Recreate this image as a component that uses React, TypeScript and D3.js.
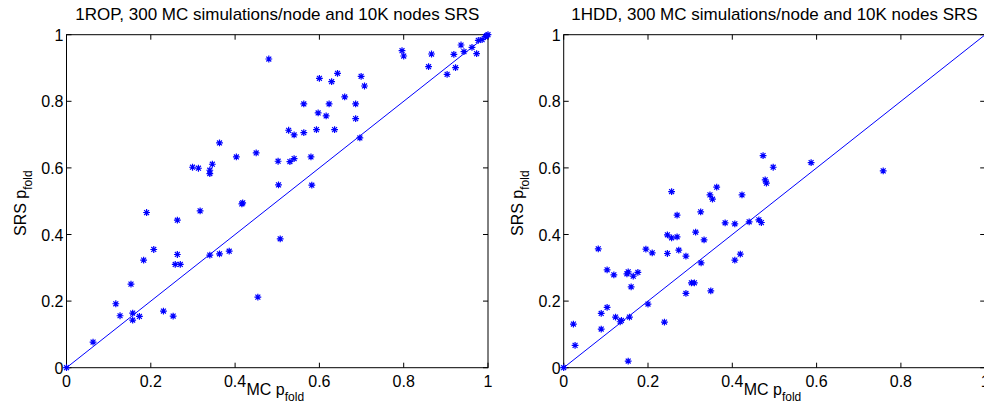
import React from "react";
import * as d3 from "d3";

const titles = [
  "1ROP, 300 MC simulations/node and 10K nodes SRS",
  "1HDD, 300 MC simulations/node and 10K nodes SRS",
];
const tickValues = [0, 0.2, 0.4, 0.6, 0.8, 1];
const tickLabels = ["0", "0.2", "0.4", "0.6", "0.8", "1"];

// Left panel: 1ROP (MC pfold, SRS pfold)
const ropMC = [
  0, 0.063, 0.117, 0.127, 0.153, 0.157, 0.157, 0.173, 0.183, 0.19, 0.207, 0.23, 0.253, 0.263, 0.263,
  0.258, 0.27, 0.317, 0.34, 0.363, 0.386, 0.416, 0.418, 0.454, 0.507, 0.48, 0.363, 0.299, 0.313, 0.346,
  0.34, 0.34, 0.403, 0.45, 0.502, 0.503, 0.796, 0.8, 0.866, 0.859, 0.919, 0.936, 0.943, 0.962, 0.973,
  0.923, 0.903, 0.977, 0.986, 0.994, 0.997, 1, 0.6, 0.629, 0.643, 0.699, 0.707, 0.66, 0.563, 0.623,
  0.686, 0.597, 0.616, 0.686, 0.527, 0.54, 0.563, 0.593, 0.636, 0.696, 0.53, 0.54, 0.58, 0.582,
];
const ropSRS = [
  0, 0.077, 0.192, 0.156, 0.251, 0.164, 0.143, 0.154, 0.323, 0.466, 0.355, 0.17, 0.155, 0.443, 0.34,
  0.31, 0.31, 0.471, 0.338, 0.342, 0.35, 0.492, 0.495, 0.212, 0.387, 0.927, 0.675, 0.602, 0.599, 0.611,
  0.593, 0.583, 0.633, 0.645, 0.62, 0.549, 0.952, 0.936, 0.942, 0.904, 0.941, 0.969, 0.949, 0.962, 0.943,
  0.901, 0.881, 0.983, 0.985, 0.994, 0.997, 1, 0.869, 0.859, 0.884, 0.875, 0.846, 0.813, 0.792, 0.792,
  0.792, 0.765, 0.756, 0.748, 0.713, 0.699, 0.706, 0.715, 0.715, 0.69, 0.619, 0.628, 0.633, 0.548,
];

// Right panel: 1HDD (MC pfold, SRS pfold)
const hddMC = [
  0, 0.023, 0.027, 0.082, 0.089, 0.089, 0.103, 0.103, 0.119, 0.123, 0.134, 0.137, 0.15, 0.153, 0.156,
  0.153, 0.16, 0.165, 0.176, 0.195, 0.2, 0.21, 0.239, 0.246, 0.246, 0.256, 0.256, 0.269, 0.269, 0.273,
  0.29, 0.29, 0.303, 0.31, 0.313, 0.325, 0.326, 0.333, 0.347, 0.353, 0.349, 0.363, 0.383, 0.406, 0.406,
  0.419, 0.423, 0.44, 0.463, 0.469, 0.473, 0.478, 0.481, 0.497, 0.587, 0.758,
];
const hddSRS = [
  0, 0.131, 0.067, 0.357, 0.163, 0.116, 0.294, 0.181, 0.279, 0.152, 0.138, 0.142, 0.282, 0.288, 0.152,
  0.02, 0.243, 0.275, 0.286, 0.356, 0.191, 0.345, 0.137, 0.399, 0.343, 0.529, 0.39, 0.458, 0.393, 0.353,
  0.335, 0.223, 0.255, 0.255, 0.407, 0.468, 0.315, 0.384, 0.519, 0.506, 0.231, 0.542, 0.435, 0.432, 0.323,
  0.341, 0.519, 0.438, 0.444, 0.436, 0.637, 0.564, 0.554, 0.602, 0.616, 0.591,
];

const W = 984;
const H = 407;
const BLUE = "#0000ff";
const FONT = "'Liberation Sans', Arial, Helvetica, sans-serif";

const panels = [
  { x0: 66.5, title: titles[0], mc: ropMC, srs: ropSRS },
  { x0: 563.7, title: titles[1], mc: hddMC, srs: hddSRS },
];

const PW = 421.5;
const yTop = 34.7;
const yBot = 367.7;

function starPath(r: number) {
  const d = r * 0.72;
  return `M${-r},0L${r},0M0,${-r}L0,${r}M${-d},${-d}L${d},${d}M${-d},${d}L${d},${-d}`;
}

function Panel({ x0, title, mc, srs }: { x0: number; title: string; mc: number[]; srs: number[] }) {
  const x = d3.scaleLinear().domain([0, 1]).range([x0, x0 + PW]);
  const y = d3.scaleLinear().domain([0, 1]).range([yBot, yTop]);
  const line = d3.line<number>().x((v) => x(v)).y((v) => y(v));
  const star = starPath(3.4);
  const tl = 5;
  return (
    <g>
      <text x={(x(0) + x(1)) / 2} y={20} textAnchor="middle" fontSize={17} fontFamily={FONT}>
        {title}
      </text>
      {/* frame */}
      <rect x={x(0)} y={y(1)} width={x(1) - x(0)} height={y(0) - y(1)} fill="none" stroke="#000" strokeWidth={1} />
      {tickValues.map((t, i) => (
        <g key={"t" + i}>
          <line x1={x(t)} x2={x(t)} y1={y(0)} y2={y(0) - tl} stroke="#000" />
          <line x1={x(t)} x2={x(t)} y1={y(1)} y2={y(1) + tl} stroke="#000" />
          <line x1={x(0)} x2={x(0) + tl} y1={y(t)} y2={y(t)} stroke="#000" />
          <line x1={x(1)} x2={x(1) - tl} y1={y(t)} y2={y(t)} stroke="#000" />
          <text x={x(t)} y={387} textAnchor="middle" fontSize={16} fontFamily={FONT}>
            {tickLabels[i]}
          </text>
          <text x={x(0) - 3} y={y(t) + 6} textAnchor="end" fontSize={16} fontFamily={FONT}>
            {tickLabels[i]}
          </text>
        </g>
      ))}
      <path d={line([0, 1]) || ""} stroke={BLUE} strokeWidth={1} fill="none" />
      {mc.map((v, i) => (
        <path key={i} d={star} transform={`translate(${x(v)},${y(srs[i])})`} stroke={BLUE} strokeWidth={1.2} fill="none" />
      ))}
      <text x={x(0) + 180} y={395} fontSize={16} fontFamily={FONT}>
        MC p
        <tspan fontSize={12} dy={6}>fold</tspan>
      </text>
      <text transform={`translate(${x(0) - 41},${236}) rotate(-90)`} fontSize={16} fontFamily={FONT}>
        SRS p
        <tspan fontSize={12} dy={6}>fold</tspan>
      </text>
    </g>
  );
}

export default function App() {
  return (
    <svg width={W} height={H} style={{ position: "absolute", left: 0, top: 0, background: "#fff" }}>
      <rect width={W} height={H} fill="#fff" />
      {panels.map((p, i) => (
        <Panel key={i} {...p} />
      ))}
    </svg>
  );
}
